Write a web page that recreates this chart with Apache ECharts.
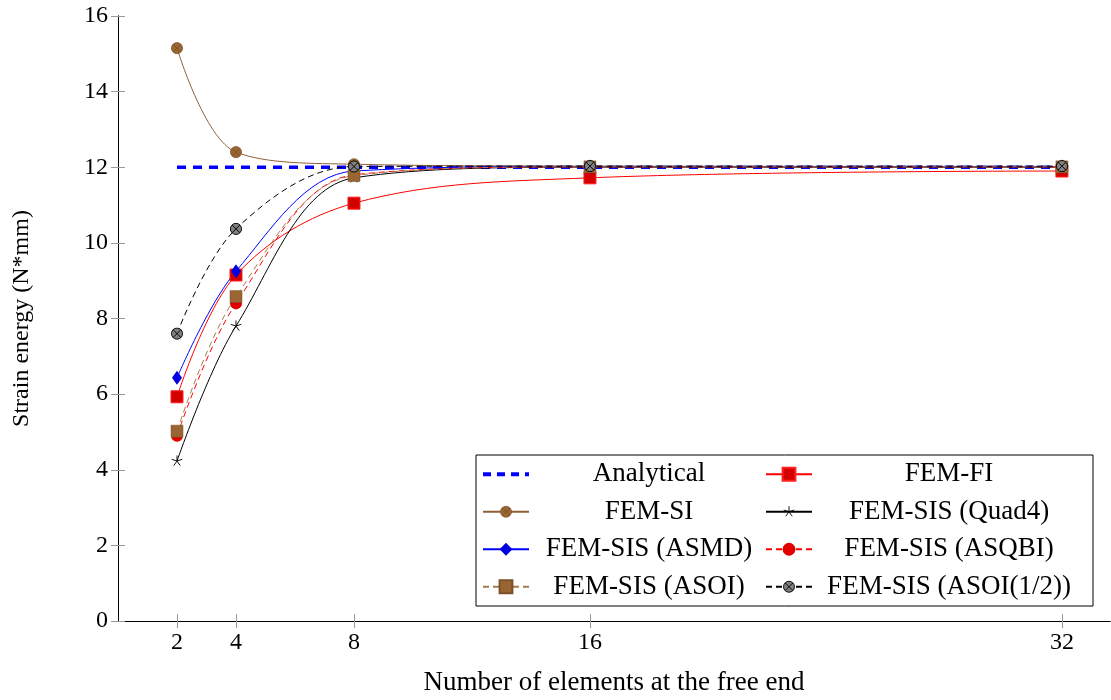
<!DOCTYPE html>
<html>
<head>
<meta charset="utf-8">
<script src="https://cdn.jsdelivr.net/npm/echarts@6/dist/echarts.min.js"></script>
<style>
  html, body { margin: 0; padding: 0; background: #fff; }
  #chart { width: 1111px; height: 700px; }
</style>
</head>
<body>
<div id="chart"></div>
<script>
// 数据
const xTicks = [2, 4, 8, 16, 32]
const yTicks = [0, 2, 4, 6, 8, 10, 12, 14, 16]
const analytical = [12, 12, 12, 12, 12]
const femFI = [5.93, 9.15, 11.05, 11.72, 11.9]
const femSI = [15.15, 12.4, 12.08, 12.03, 12.02]
const quad4 = [4.23, 7.8, 11.72, 12.0, 12.0]
const asmd = [6.43, 9.25, 11.9, 12.02, 12.02]
const asqbi = [4.9, 8.4, 11.8, 12.01, 12.01]
const asoi = [5.02, 8.58, 11.78, 12.01, 12.01]
const asoiHalf = [7.6, 10.37, 12.02, 12.03, 12.03]

const names = ['Analytical', 'FEM-FI', 'FEM-SI', 'FEM-SIS (Quad4)',
  'FEM-SIS (ASMD)', 'FEM-SIS (ASQBI)', 'FEM-SIS (ASOI)', 'FEM-SIS (ASOI(1/2))']

const font = 'Liberation Serif'

// 把 x、y 拼成点
function pts(ys) {
  return xTicks.map((x, i) => [x, ys[i]])
}

// svg 小图标当作标记
function svgIcon(body) {
  let svg = "<svg xmlns='http://www.w3.org/2000/svg' width='28' height='28' viewBox='0 0 14 14'>" + body + '</svg>'
  return 'image://data:image/svg+xml;charset=utf-8,' + encodeURIComponent(svg)
}
const otimesBrown = svgIcon("<circle cx='7' cy='7' r='6' fill='#996633' stroke='#7a5229' stroke-width='0.8'/><path d='M2.8 2.8L11.2 11.2M11.2 2.8L2.8 11.2' stroke='#6e4a25' stroke-width='0.7'/>")
const otimesGray = svgIcon("<circle cx='7' cy='7' r='6' fill='#808080' stroke='#000' stroke-width='1'/><path d='M2.8 2.8L11.2 11.2M11.2 2.8L2.8 11.2' stroke='#000' stroke-width='1'/>")
const star = svgIcon("<path d='M7 7L7 1M7 7L12.7 5.1M7 7L10.5 11.9M7 7L3.5 11.9M7 7L1.3 5.1' stroke='#000' stroke-width='1' fill='none'/>")

let myChart = echarts.init(document.getElementById('chart'))

// 刻度朝里，灰色
let tickStyle = { show: true, inside: true, length: 7, lineStyle: { color: '#999', width: 1 } }

// 图例：左列文字宽 230，右列 264，居中
let legendText = {
  fontSize: 27, fontFamily: font, color: '#000',
  height: 36.5, lineHeight: 36.5, align: 'center'
}

let option = {
  animation: false,
  textStyle: { fontFamily: font },
  // 固定绘图区，不让 v6 自动收缩
  grid: { left: 118, top: 16, right: 1, bottom: 79, containLabel: false, outerBoundsMode: 'none' },
  legend: {
    data: names.map(function (n) {
      // Analytical 只要粗虚线，不要点
      return n === 'Analytical'
        ? { name: n, itemStyle: { opacity: 0 }, lineStyle: { width: 4, type: [8, 6], color: '#0000ff' } }
        : { name: n }
    }),
    orient: 'horizontal',
    left: 476,
    top: 455,
    width: 600,
    itemGap: 1,
    itemWidth: 46,
    itemHeight: 16,
    padding: [1, 12, 1, 5],
    borderColor: '#000',
    borderWidth: 1,
    backgroundColor: '#fff',
    formatter: function (name) {
      let i = names.indexOf(name)
      return (i % 2 === 0 ? '{a|' : '{b|') + name + '}'
    },
    textStyle: {
      rich: {
        a: Object.assign({ width: 230 }, legendText),
        b: Object.assign({ width: 264 }, legendText)
      }
    }
  },
  xAxis: [
    {
      type: 'value',
      min: 0,
      max: 33.63,
      name: 'Number of elements at the free end',
      nameLocation: 'middle',
      nameGap: 48,
      nameTextStyle: { fontSize: 27, color: '#000', fontFamily: font, verticalAlign: 'top' },
      axisLine: { lineStyle: { color: '#000', width: 1 } },
      axisTick: Object.assign({ customValues: xTicks }, tickStyle),
      axisLabel: { customValues: xTicks, fontSize: 24, color: '#000', margin: 10, fontFamily: font },
      splitLine: { show: false }
    },
    {
      type: 'value',
      position: 'top',
      min: 0,
      max: 33.63,
      axisLine: { lineStyle: { color: '#000', width: 1 } },
      axisTick: Object.assign({ customValues: xTicks }, tickStyle),
      axisLabel: { show: false },
      splitLine: { show: false }
    }
  ],
  yAxis: [
    {
      type: 'value',
      min: 0,
      max: 16,
      interval: 2,
      name: 'Strain energy (N*mm)',
      nameLocation: 'middle',
      nameGap: 84,
      nameTextStyle: { fontSize: 24, color: '#000', fontFamily: font },
      axisLine: { show: true, lineStyle: { color: '#000', width: 1 } },
      axisTick: tickStyle,
      axisLabel: { fontSize: 24, color: '#000', margin: 10, fontFamily: font },
      splitLine: { show: false }
    },
    {
      type: 'value',
      position: 'right',
      min: 0,
      max: 16,
      interval: 2,
      axisLine: { show: true, lineStyle: { color: '#000', width: 1 } },
      axisTick: tickStyle,
      axisLabel: { show: false },
      splitLine: { show: false }
    }
  ],
  series: [
    {
      name: 'Analytical',
      type: 'line',
      data: pts(analytical),
      showSymbol: false,
      symbol: 'none',
      z: 3,
      lineStyle: { color: '#0000ff', width: 3.5, type: [9, 7] },
      itemStyle: { color: '#0000ff' }
    },
    {
      name: 'FEM-FI',
      type: 'line',
      data: pts(femFI),
      smooth: 0.35,
      symbol: 'rect',
      symbolSize: 12,
      lineStyle: { color: '#ff0000', width: 1 },
      itemStyle: { color: '#d40000', borderColor: '#ff2020', borderWidth: 1 }
    },
    {
      name: 'FEM-SI',
      type: 'line',
      data: pts(femSI),
      smooth: 0.35,
      symbol: otimesBrown,
      symbolSize: 13,
      lineStyle: { color: '#8f6036', width: 1 },
      itemStyle: { color: '#996633' }
    },
    {
      name: 'FEM-SIS (Quad4)',
      type: 'line',
      data: pts(quad4),
      smooth: 0.35,
      symbol: star,
      symbolSize: 13,
      lineStyle: { color: '#000', width: 1 },
      itemStyle: { color: '#000' }
    },
    {
      name: 'FEM-SIS (ASMD)',
      type: 'line',
      data: pts(asmd),
      smooth: 0.35,
      symbol: 'diamond',
      symbolSize: [10, 14],
      lineStyle: { color: '#0000ff', width: 1 },
      itemStyle: { color: '#0000e0' }
    },
    {
      name: 'FEM-SIS (ASQBI)',
      type: 'line',
      data: pts(asqbi),
      smooth: 0.35,
      symbol: 'circle',
      symbolSize: 12,
      lineStyle: { color: '#ff0000', width: 1, type: [6, 4] },
      itemStyle: { color: '#e00000' }
    },
    {
      name: 'FEM-SIS (ASOI)',
      type: 'line',
      data: pts(asoi),
      smooth: 0.35,
      symbol: 'rect',
      symbolSize: 12,
      lineStyle: { color: '#a67c52', width: 1, type: [6, 4] },
      itemStyle: { color: '#996633', borderColor: '#7a5229', borderWidth: 0.5 }
    },
    {
      name: 'FEM-SIS (ASOI(1/2))',
      type: 'line',
      data: pts(asoiHalf),
      smooth: 0.35,
      symbol: otimesGray,
      symbolSize: 13,
      lineStyle: { color: '#000', width: 1, type: [6, 4] },
      itemStyle: { color: '#808080' }
    }
  ]
}

myChart.setOption(option)

window.addEventListener('resize', function () {
  myChart.resize()
})
</script>
</body>
</html>
